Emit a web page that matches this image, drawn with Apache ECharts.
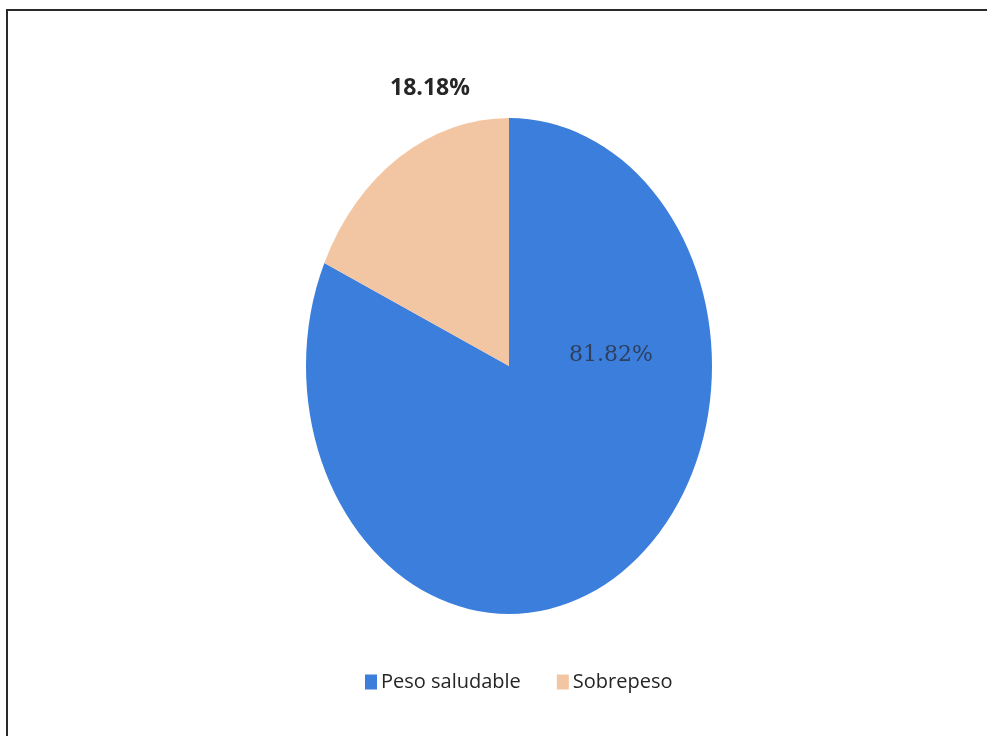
<!DOCTYPE html>
<html>
<head>
<meta charset="utf-8">
<title>Peso saludable / Sobrepeso</title>
<script src="https://cdn.jsdelivr.net/npm/echarts@6/dist/echarts.min.js"></script>
<style>
  html, body { margin: 0; padding: 0; background: #ffffff; }
  #chart { width: 987px; height: 736px; }
</style>
</head>
<body>
<div id="chart"></div>
<script>
// Categories and their shares (percent)
const categories = ['Peso saludable', 'Sobrepeso'];
const values = [81.82, 18.18];
const sliceColors = ['#3b7edc', '#f3c6a3'];

// Elliptical pie geometry (pixels)
const pieCenter = [509, 366];
const radiusX = 203;
const radiusY = 248;
// Where each percentage label sits, relative to the pie centre
const labelOffsets = [[102, -11], [-79, -278]];
const labelStyles = [
  { fontFamily: 'DejaVu Serif', fontSize: 22, fontWeight: 'normal', fill: '#2f3f5c' },
  { fontFamily: 'Open Sans', fontSize: 23, fontWeight: 'bold', fill: '#262626' }
];

const total = values.reduce((a, b) => a + b, 0);
const startAngles = [];
let acc = 0;
values.forEach(v => { startAngles.push(acc); acc += v; });

function makeRenderItem(idx) {
  return function (params, api) {
    const v = api.value(0);
    const a0 = -Math.PI / 2 + (startAngles[idx] / total) * Math.PI * 2;
    const a1 = a0 + (v / total) * Math.PI * 2;
    const off = labelOffsets[idx];
    return {
      type: 'group',
      children: [
        {
          type: 'sector',
          x: pieCenter[0],
          y: pieCenter[1],
          scaleY: radiusY / radiusX,
          shape: { cx: 0, cy: 0, r0: 0, r: radiusX, startAngle: a0, endAngle: a1, clockwise: true },
          style: { fill: sliceColors[idx], stroke: null }
        },
        {
          type: 'text',
          x: pieCenter[0] + off[0],
          y: pieCenter[1] + off[1],
          z2: 10,
          style: Object.assign({
            text: v.toFixed(2) + '%',
            align: 'center',
            verticalAlign: 'middle'
          }, labelStyles[idx])
        }
      ]
    };
  };
}

const chart = echarts.init(document.getElementById('chart'), null, { renderer: 'canvas' });

chart.setOption({
  backgroundColor: '#ffffff',
  animation: false,
  legend: {
    data: categories,
    left: 360,
    top: 667,
    icon: 'rect',
    itemWidth: 12,
    itemHeight: 15,
    itemGap: 36,
    textStyle: { fontFamily: 'Open Sans', fontSize: 20, color: '#262626', padding: [0, 0, 0, -1] },
    selectedMode: false
  },
  graphic: [
    {
      type: 'rect',
      shape: { x: 7, y: 10, width: 1000, height: 760 },
      style: { fill: 'none', stroke: '#2a2a2a', lineWidth: 2 },
      silent: true
    }
  ],
  series: categories.map((name, i) => ({
    type: 'custom',
    name: name,
    coordinateSystem: 'none',
    itemStyle: { color: sliceColors[i] },
    data: [[values[i]]],
    renderItem: makeRenderItem(i)
  }))
});
</script>
</body>
</html>
